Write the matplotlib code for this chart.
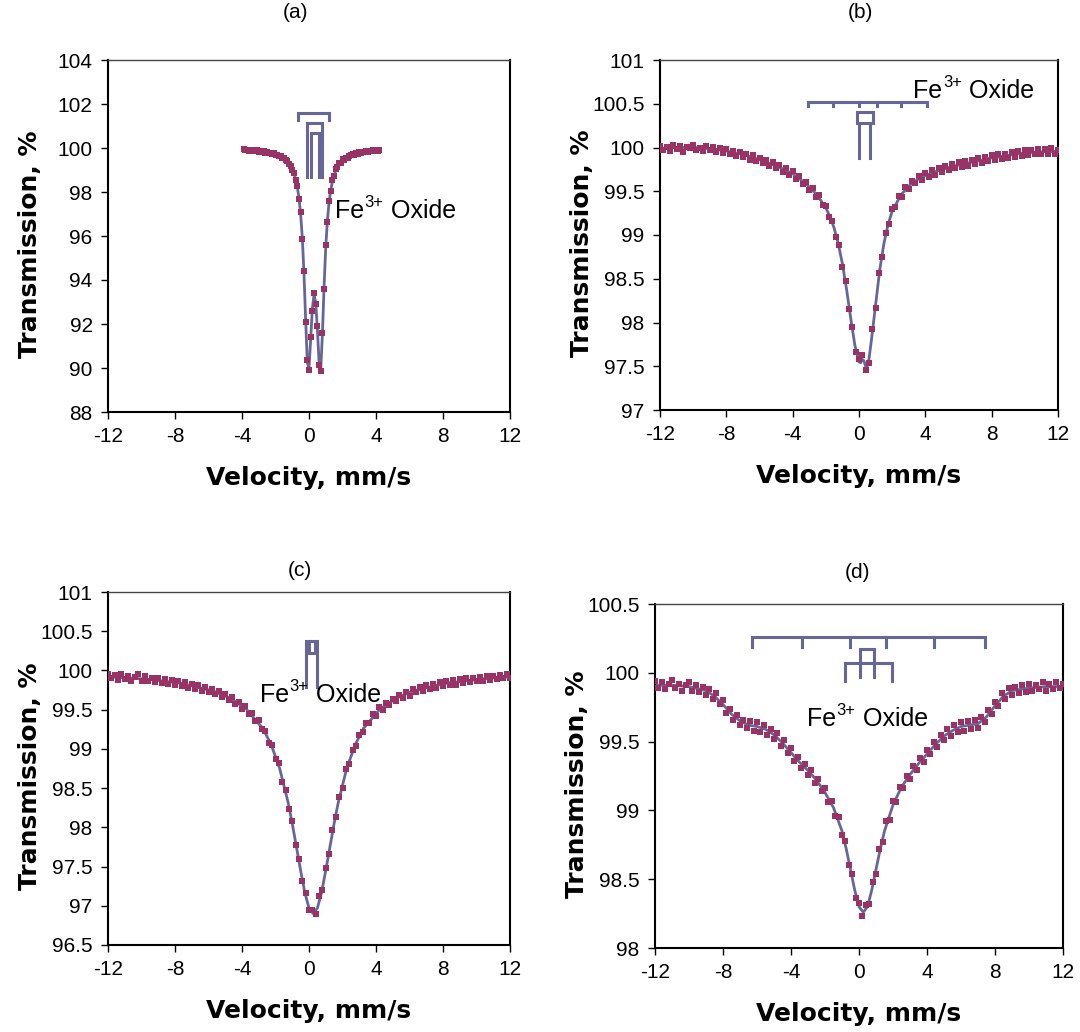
import numpy as np
import matplotlib
matplotlib.use("Agg")
import matplotlib.pyplot as plt
from matplotlib.ticker import FormatStrFormatter

plt.rcParams["font.family"] = ["Liberation Sans", "DejaVu Sans"]
plt.rcParams["axes.unicode_minus"] = False

# ---------------- spectrum (a) ----------------
fit_a_v = [-3.9, -3.0, -2.5, -2.0, -1.5, -1.4, -1.3, -1.2, -1.1, -1.0, -0.9, -0.8,
           -0.7, -0.6, -0.5, -0.4, -0.3, -0.2, -0.1, 0.0, 0.1, 0.2, 0.3, 0.4, 0.5,
           0.6, 0.7, 0.8, 0.9, 1.0, 1.1, 1.2, 1.3, 1.4, 1.5, 1.6, 1.7, 1.8, 1.9,
           2.0, 2.5, 3.0, 3.5, 4.2]
fit_a_t = [99.92, 99.87, 99.82, 99.72, 99.53, 99.47, 99.39, 99.30, 99.18, 99.04,
           98.85, 98.59, 98.23, 97.74, 97.01, 95.92, 94.31, 92.18, 90.25, 89.98,
           91.31, 92.71, 93.32, 92.99, 91.78, 90.27, 89.94, 91.52, 93.71, 95.50,
           96.73, 97.55, 98.10, 98.49, 98.78, 98.99, 99.15, 99.27, 99.37, 99.45,
           99.68, 99.80, 99.86, 99.90]
vel_a = np.round(np.linspace(-3.9, 4.2, 82), 2)
trans_a = [99.95, 99.90, 99.93, 99.88, 99.92, 99.86, 99.90, 99.85, 99.89, 99.84,
           99.88, 99.82, 99.85, 99.79, 99.84, 99.77, 99.79, 99.72, 99.76, 99.69,
           99.70, 99.62, 99.63, 99.55, 99.56, 99.44, 99.41, 99.27, 99.20, 99.00,
           98.88, 98.55, 98.28, 97.68, 97.08, 95.85, 94.40, 92.10, 90.35, 89.90,
           91.40, 92.60, 93.40, 92.90, 91.90, 90.15, 89.85, 91.60, 93.60, 95.60,
           96.65, 97.60, 98.05, 98.55, 98.74, 99.03, 99.12, 99.30, 99.34, 99.48,
           99.46, 99.56, 99.55, 99.64, 99.66, 99.72, 99.70, 99.77, 99.75, 99.82,
           99.78, 99.84, 99.81, 99.87, 99.84, 99.88, 99.86, 99.90, 99.87, 99.91,
           99.88, 99.92]

# ---------------- spectrum (b) ----------------
fit_b_v = [-12, -11, -10, -9, -8, -7, -6, -5, -4, -3.5, -3, -2.5, -2, -1.75, -1.5,
           -1.25, -1, -0.75, -0.5, -0.25, 0, 0.1, 0.2, 0.3, 0.4, 0.5, 0.6, 0.75, 1,
           1.25, 1.5, 1.75, 2, 2.5, 3, 3.5, 4, 5, 6, 7, 8, 9, 10, 11, 12]
fit_b_t = [99.99, 100.00, 100.00, 99.99, 99.96, 99.92, 99.86, 99.79, 99.70, 99.63,
           99.55, 99.45, 99.31, 99.21, 99.08, 98.90, 98.67, 98.38, 98.05, 97.74,
           97.55, 97.54, 97.58, 97.56, 97.50, 97.50, 97.58, 97.80, 98.20, 98.60,
           98.90, 99.12, 99.27, 99.45, 99.56, 99.63, 99.68, 99.75, 99.80, 99.84,
           99.88, 99.91, 99.94, 99.95, 99.96]
vel_b = np.round(np.linspace(-12, 12, 121), 2)
trans_b = [100.02, 99.97, 100.01, 99.96, 100.03, 99.98, 100.02, 99.95, 100.01, 99.99,
           100.03, 99.97, 100.00, 99.96, 100.02, 99.97, 100.01, 99.95, 99.99, 99.94,
           99.98, 99.92, 99.96, 99.90, 99.95, 99.89, 99.93, 99.86, 99.91, 99.84,
           99.88, 99.82, 99.86, 99.79, 99.83, 99.76, 99.80, 99.72, 99.76, 99.69,
           99.73, 99.64, 99.67, 99.58, 99.61, 99.52, 99.54, 99.44, 99.46, 99.34,
           99.33, 99.20, 99.16, 98.98, 98.89, 98.64, 98.47, 98.15, 97.95, 97.66,
           97.58, 97.63, 97.46, 97.54, 97.92, 98.17, 98.56, 98.75, 99.02, 99.12,
           99.30, 99.32, 99.45, 99.44, 99.55, 99.53, 99.62, 99.59, 99.67, 99.63,
           99.71, 99.66, 99.74, 99.69, 99.77, 99.72, 99.79, 99.74, 99.81, 99.76,
           99.83, 99.78, 99.85, 99.79, 99.86, 99.81, 99.88, 99.82, 99.89, 99.84,
           99.91, 99.86, 99.92, 99.87, 99.93, 99.88, 99.95, 99.89, 99.96, 99.90,
           99.97, 99.91, 99.97, 99.92, 99.98, 99.93, 99.98, 99.92, 99.99, 99.93,
           99.97]

# ---------------- spectrum (c) ----------------
fit_c_v = [-12, -9.75, -7.75, -5.75, -4.75, -3.75, -2.75, -2.25, -1.75, -1.25, -1.0,
           -0.75, -0.5, -0.25, 0, 0.25, 0.5, 0.75, 1.0, 1.25, 1.5, 1.75, 2.25, 2.75,
           3.25, 4.25, 5.25, 6.25, 8.25, 10.25, 12]
fit_c_t = [99.92, 99.89, 99.84, 99.74, 99.65, 99.51, 99.26, 99.05, 98.75, 98.32,
           98.05, 97.75, 97.45, 97.17, 96.97, 96.90, 96.97, 97.17, 97.45, 97.75,
           98.05, 98.32, 98.75, 99.05, 99.26, 99.51, 99.65, 99.74, 99.84, 99.89,
           99.92]
vel_c = np.round(np.linspace(-12, 12, 121), 2)
trans_c = [99.95, 99.90, 99.94, 99.88, 99.95, 99.89, 99.93, 99.87, 99.92, 99.96,
           99.87, 99.93, 99.86, 99.91, 99.85, 99.90, 99.84, 99.89, 99.83, 99.88,
           99.82, 99.87, 99.80, 99.85, 99.78, 99.83, 99.76, 99.81, 99.74, 99.79,
           99.72, 99.76, 99.70, 99.74, 99.66, 99.70, 99.62, 99.66, 99.57, 99.60,
           99.51, 99.55, 99.45, 99.46, 99.35, 99.37, 99.25, 99.23, 99.08, 99.05,
           98.87, 98.82, 98.58, 98.48, 98.24, 98.08, 97.78, 97.60, 97.31, 97.16,
           96.94, 96.95, 96.90, 97.12, 97.20, 97.48, 97.66, 97.96, 98.13, 98.39,
           98.50, 98.74, 98.81, 98.99, 99.04, 99.18, 99.21, 99.33, 99.33, 99.44,
           99.42, 99.53, 99.50, 99.59, 99.56, 99.64, 99.61, 99.69, 99.65, 99.72,
           99.68, 99.76, 99.72, 99.79, 99.74, 99.81, 99.76, 99.83, 99.78, 99.85,
           99.80, 99.87, 99.81, 99.88, 99.82, 99.89, 99.84, 99.90, 99.85, 99.91,
           99.86, 99.92, 99.87, 99.93, 99.88, 99.93, 99.89, 99.94, 99.90, 99.95,
           99.91]

# ---------------- spectrum (d) ----------------
fit_d_v = [-12, -11, -10, -9, -8.5, -8, -7.5, -7, -6.5, -6, -5.5, -5, -4.5, -4, -3.5,
           -3, -2.5, -2, -1.5, -1, -0.75, -0.5, -0.25, 0, 0.25, 0.5, 0.75, 1, 1.25,
           1.5, 2, 2.5, 3, 3.5, 4, 4.5, 5, 5.5, 6, 6.5, 7, 7.5, 8, 8.5, 9, 10, 11, 12]
fit_d_t = [99.91, 99.91, 99.90, 99.87, 99.83, 99.77, 99.70, 99.65, 99.62, 99.61,
           99.59, 99.55, 99.49, 99.42, 99.35, 99.29, 99.22, 99.13, 99.02, 98.85,
           98.72, 98.57, 98.42, 98.30, 98.26, 98.30, 98.42, 98.57, 98.72, 98.85,
           99.04, 99.17, 99.26, 99.34, 99.41, 99.48, 99.54, 99.58, 99.61, 99.62,
           99.63, 99.68, 99.76, 99.83, 99.87, 99.89, 99.90, 99.90]
vel_d = np.round(np.linspace(-12, 12, 121), 2)
trans_d = [99.94, 99.89, 99.93, 99.88, 99.92, 99.95, 99.89, 99.92, 99.87, 99.91,
           99.93, 99.87, 99.91, 99.86, 99.90, 99.84, 99.88, 99.81, 99.85, 99.77,
           99.80, 99.71, 99.74, 99.66, 99.69, 99.62, 99.66, 99.60, 99.65, 99.58,
           99.64, 99.57, 99.62, 99.55, 99.59, 99.52, 99.56, 99.47, 99.51, 99.42,
           99.45, 99.36, 99.39, 99.31, 99.34, 99.26, 99.29, 99.20, 99.23, 99.14,
           99.16, 99.06, 99.07, 98.96, 98.95, 98.82, 98.78, 98.60, 98.54, 98.36,
           98.33, 98.23, 98.31, 98.32, 98.48, 98.54, 98.72, 98.77, 98.92, 98.93,
           99.07, 99.06, 99.17, 99.16, 99.25, 99.23, 99.32, 99.29, 99.38, 99.35,
           99.44, 99.41, 99.50, 99.46, 99.55, 99.51, 99.59, 99.54, 99.62, 99.57,
           99.64, 99.58, 99.65, 99.59, 99.66, 99.60, 99.68, 99.64, 99.73, 99.70,
           99.79, 99.76, 99.85, 99.81, 99.89, 99.84, 99.90, 99.85, 99.91, 99.86,
           99.92, 99.87, 99.91, 99.88, 99.93, 99.87, 99.92, 99.88, 99.93, 99.89,
           99.92]

# Stick diagrams: (line positions, bar level, leg end level)
sticks_a = [([-0.66, 1.19], 101.60, 101.27),
            ([-0.10, 0.76], 101.13, 98.70),
            ([0.12, 0.60], 100.70, 98.70)]
sticks_b = [([-3.06, -1.58, 0.0, 1.07, 2.54, 4.09], 100.52, 100.47),
            ([-0.14, 0.86], 100.41, 100.28),
            ([-0.02, 0.67], 100.28, 99.88)]
sticks_c = [([-0.18, 0.50], 100.37, 99.79),
            ([0.0, 0.36], 100.22, 100.37)]
sticks_d = [([-6.30, -3.35, -0.54, 1.60, 4.41, 7.40], 100.26, 100.19),
            ([0.05, 0.87], 100.17, 99.97),
            ([-0.80, 1.92], 100.07, 99.94)]

panels = [
    dict(tag="(a)", rect=[108, 60, 402, 352], ylim=(88, 104), yticks=[88, 90, 92, 94, 96, 98, 100, 102, 104],
         fit=(fit_a_v, fit_a_t), data=(vel_a, trans_a), sticks=sticks_a, label=(1.55, 96.82),
         title_xy=(295, 12)),
    dict(tag="(b)", rect=[660, 60, 398, 350], ylim=(97, 101), yticks=[97, 97.5, 98, 98.5, 99, 99.5, 100, 100.5, 101],
         fit=(fit_b_v, fit_b_t), data=(vel_b, trans_b), sticks=sticks_b, label=(3.26, 100.56),
         title_xy=(860, 12)),
    dict(tag="(c)", rect=[108, 592, 402, 353], ylim=(96.5, 101), yticks=[96.5, 97, 97.5, 98, 98.5, 99, 99.5, 100, 100.5, 101],
         fit=(fit_c_v, fit_c_t), data=(vel_c, trans_c), sticks=sticks_c, label=(-2.93, 99.60),
         title_xy=(300, 570)),
    dict(tag="(d)", rect=[655, 604, 408, 344], ylim=(98, 100.5), yticks=[98, 98.5, 99, 99.5, 100, 100.5],
         fit=(fit_d_v, fit_d_t), data=(vel_d, trans_d), sticks=sticks_d, label=(-3.06, 99.61),
         title_xy=(858, 572)),
]

W, H = 1080, 1032
fig = plt.figure(figsize=(W / 100, H / 100), dpi=100)

DATA_COLOR = "#993366"
FIT_COLOR = "#666699"
AXIS_TITLE_FONT = ["DejaVu Sans"]

for p in panels:
    x0, y0, w, h = p["rect"]
    ax = fig.add_axes([x0 / W, 1 - (y0 + h) / H, w / W, h / H])
    fv, ft = p["fit"]
    dv, dt = p["data"]
    assert len(dv) == len(dt) and len(fv) == len(ft)
    ax.plot(fv, ft, color=FIT_COLOR, lw=2.0, zorder=2)
    ax.plot(dv, dt, ls="none", marker="s", ms=3.8, mew=0, color=DATA_COLOR, zorder=3)

    for pos, top, bottom in p["sticks"]:
        ax.plot([pos[0], pos[0], pos[-1], pos[-1]], [bottom, top, top, bottom],
                color=FIT_COLOR, lw=2.2, solid_joinstyle="miter", zorder=4)
        for xm in pos[1:-1]:
            ax.plot([xm, xm], [top, bottom], color=FIT_COLOR, lw=2.2, zorder=4)

    # "Fe3+ Oxide" with a raised charge
    lx, ly = p["label"]
    t_fe = ax.text(lx, ly, "Fe", fontsize=18, ha="left", va="baseline", zorder=5)
    t_sup = ax.annotate("3+", xy=(1, ly), xycoords=(t_fe, "data"),
                        xytext=(0.5, 8), textcoords="offset points",
                        fontsize=12, ha="left", va="baseline", zorder=5)
    ax.annotate(" Oxide", xy=(1, ly), xycoords=(t_sup, "data"),
                xytext=(0, 0), textcoords="offset points",
                fontsize=18, ha="left", va="baseline", zorder=5)

    ax.set_xlim(-12, 12)
    ax.set_ylim(*p["ylim"])
    ax.set_xticks([-12, -8, -4, 0, 4, 8, 12])
    ax.set_yticks(p["yticks"])
    ax.yaxis.set_major_formatter(FormatStrFormatter("%g"))
    ax.tick_params(direction="out", length=5, width=1.0, labelsize=15, pad=6,
                   top=False, right=False)
    for side in ["left", "bottom", "right"]:
        ax.spines[side].set_linewidth(1.5)
        ax.spines[side].set_color("black")
    ax.spines["top"].set_linewidth(1.0)
    ax.spines["top"].set_color("#444444")

    # axis titles and panel tags placed in figure pixels
    cx = x0 + w / 2
    fig.text(cx / W, 1 - (y0 + h + 66) / H, "Velocity, mm/s", fontsize=18,
             family=AXIS_TITLE_FONT, fontweight="bold", ha="center", va="center")
    fig.text((x0 - 78) / W, 1 - (y0 + h / 2 + 8) / H, "Transmission, %", fontsize=18,
             family=AXIS_TITLE_FONT, fontweight="bold", ha="center", va="center",
             rotation=90)
    tx, ty = p["title_xy"]
    fig.text(tx / W, 1 - ty / H, p["tag"], fontsize=15, ha="center", va="center")

fig.savefig("out.png", dpi=100)
